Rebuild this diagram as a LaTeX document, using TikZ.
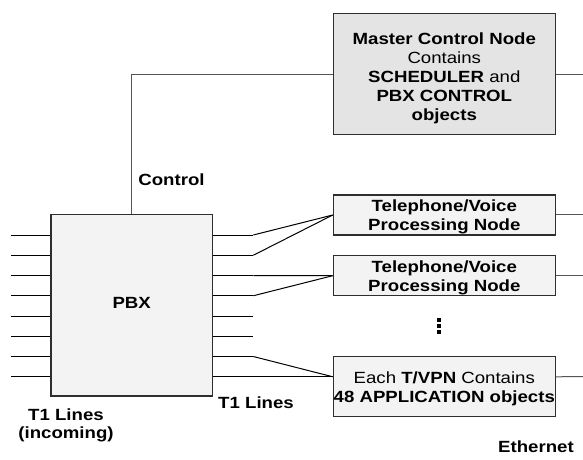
\documentclass[tikz,border=0pt]{standalone}
\usepackage{fontspec}
\setmainfont{Liberation Sans}[FakeStretch=1.15]
\begin{document}
\begin{tikzpicture}[x=1pt,y=-1pt,
  every node/.style={font=\fontsize{16.2}{19}\selectfont, inner sep=0pt},
  unit/.style={draw=boxline, line width=1.2pt, rectangle},
  wire/.style={draw=black, line width=1pt},
  lan/.style={draw=lanline, line width=1pt},
  inside/.style={align=center},
  tag/.style={font=\fontsize{16.2}{18}\selectfont\bfseries, align=center}]
\definecolor{boxline}{HTML}{2E2E2E}
\definecolor{lanline}{HTML}{555555}
\definecolor{mastergray}{HTML}{E4E4E4}
\definecolor{lightgray}{HTML}{F3F3F3}
\useasboundingbox (0,0) rectangle (583,459);

% trunk line end points on both sides of the PBX
\foreach \i in {1,...,8} {
  \coordinate (l\i) at (11, {235+20.25*(\i-1)});
  \coordinate (r\i) at (253.3, {235+20.25*(\i-1)});
}
% free ends of the Ethernet taps
\coordinate (e0) at (583, 74);
\coordinate (e1) at (583, 214);
\coordinate (e2) at (583, 275.7);
\coordinate (e3) at (583, 376.7);

% boxes
\node[unit, fill=lightgray, minimum width=161.3pt, minimum height=181.7pt] (pbx) at (131.7, 305.2) {};
\node[unit, fill=mastergray, minimum width=222pt, minimum height=121.4pt] (master) at (444.3, 74) {};
\node[unit, fill=lightgray, minimum width=222pt, minimum height=40pt] (bx1) at (444.3, 215) {};
\node[unit, fill=lightgray, minimum width=222pt, minimum height=40pt] (bx2) at (444.3, 275.7) {};
\node[unit, fill=lightgray, minimum width=222pt, minimum height=60pt] (bx3) at (444.3, 386.7) {};

% box contents
\node[tag] (pbxlabel) at (131.7, 302.5) {PBX};
\node[inside] (mastertext) at (444.3, 78)
  {\bfseries Master Control Node\\Contains\\\bfseries SCHEDULER\mdseries{} and\\\bfseries PBX CONTROL\\\bfseries objects};
\node[inside] (bx1text) at (444.3, 217)
  {\bfseries Telephone/Voice\\\bfseries Processing Node};
\node[inside] (bx2text) at (444.3, 277.7)
  {\bfseries Telephone/Voice\\\bfseries Processing Node};
\node[inside] (bx3text) at (444.3, 388.5)
  {Each \textbf{T/VPN} Contains\\\bfseries 48 APPLICATION objects};

% incoming and outgoing T1 lines
\foreach \i in {1,...,8} {
  \draw[wire] (l\i) -- (l\i -| pbx.west);
  \draw[wire] (r\i -| pbx.east) -- (r\i);
}
% T1 lines into the T/VPN nodes
\draw[wire] (r1) -- (bx1.west);
\draw[wire] (r2) -- (bx1.west);
\draw[wire] (r3) -- (bx2.west);
\draw[wire] (r4) -- (bx2.west);
\draw[wire] (r7) -- (r8 -| bx3.west);
\draw[wire] (r8) -- (r8 -| bx3.west);

% control link and Ethernet taps
\draw[lan] (pbx.north) |- (master.west);
\draw[lan] (master.east) -- (e0);
\draw[lan] (e1 -| bx1.east) -- (e1);
\draw[lan] (bx2.east) -- (e2);
\draw[lan] (r8 -| bx3.east) -- (e3);

% vertical ellipsis between the T/VPN nodes
\foreach \y in {320,326,332} \fill (437.4,\y-1.6) rectangle ++(3.2,3.2);

% labels
\node[tag] (ctl) at (171.5, 180) {Control};
\node[tag] (t1in) at (66, 425) {T1 Lines\\(incoming)};
\node[tag] (t1out) at (256, 403) {T1 Lines};
\node[tag] (eth) at (536, 447) {Ethernet};
\end{tikzpicture}
\end{document}
